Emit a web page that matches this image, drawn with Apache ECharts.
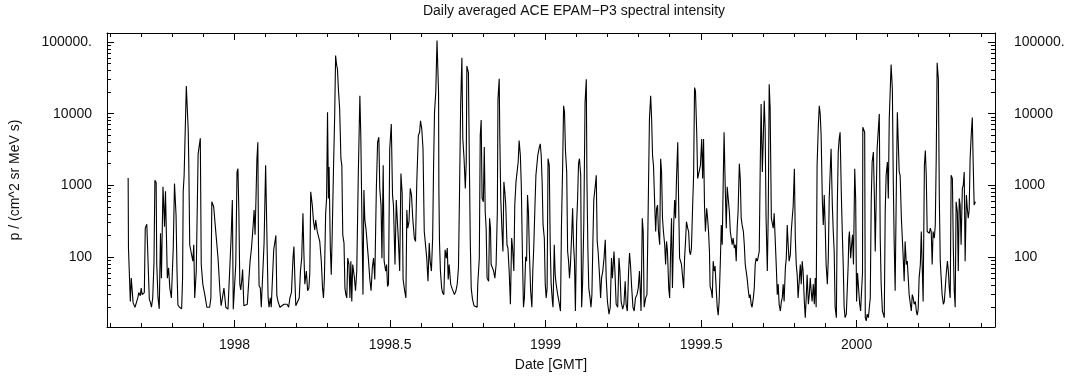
<!DOCTYPE html>
<html>
<head>
<meta charset="utf-8">
<script src="https://cdn.jsdelivr.net/npm/echarts@6/dist/echarts.min.js"></script>
<style>
html,body{margin:0;padding:0;background:#fff;}
#chart{width:1070px;height:377px;}
</style>
</head>
<body>
<div id="chart"></div>
<script>
const titleText = 'Daily averaged ACE EPAM\u2212P3 spectral intensity';
const xName = 'Date [GMT]';
const yName = 'p / (cm^2 sr MeV s)';

const xMajorTicks = [1998, 1998.5, 1999, 1999.5, 2000];
const xMajorText = ['1998', '1998.5', '1999', '1999.5', '2000'];
const xMinorTicks = [1997.6,1997.7,1997.8,1997.9,1998.1,1998.2,1998.3,1998.4,1998.6,1998.7,1998.8,1998.9,
  1999.1,1999.2,1999.3,1999.4,1999.6,1999.7,1999.8,1999.9,2000.1,2000.2,2000.3,2000.4];
const yMajorTicks = [100, 1000, 10000, 100000];
const yMajorText = ['100', '1000', '10000', '100000.'];
const yMinorTicks = [20,30,40,50,60,70,80,90,200,300,400,500,600,700,800,900,
  2000,3000,4000,5000,6000,7000,8000,9000,20000,30000,40000,50000,60000,70000,80000,90000];

const dates = [
1997.658,1997.659,1997.662,1997.665,1997.668,1997.671,1997.674,1997.680,1997.685,1997.689,
1997.692,1997.697,1997.700,1997.703,1997.706,1997.710,1997.713,1997.718,1997.722,1997.726,
1997.730,1997.733,1997.737,1997.741,1997.744,1997.748,1997.750,1997.754,1997.758,1997.762,
1997.765,1997.770,1997.773,1997.775,1997.778,1997.781,1997.784,1997.788,1997.792,1997.797,
1997.803,1997.807,1997.810,1997.812,1997.815,1997.818,1997.823,1997.830,1997.833,1997.835,
1997.838,1997.842,1997.845,1997.849,1997.851,1997.853,1997.856,1997.861,1997.866,1997.869,
1997.872,1997.877,1997.883,1997.890,1997.893,1997.898,1997.905,1997.911,1997.920,1997.924,
1997.927,1997.933,1997.937,1997.941,
1997.947,1997.953,1997.957,1997.961,1997.966,1997.970,1997.972,1997.979,1997.985,1997.989,
1997.993,1997.996,1998.001,1998.004,1998.008,1998.011,1998.014,1998.017,1998.020,1998.024,
1998.026,1998.030,1998.035,1998.041,1998.046,1998.050,1998.054,1998.057,1998.060,1998.063,
1998.066,1998.069,1998.072,1998.075,1998.077,1998.079,1998.083,1998.086,1998.090,1998.095,
1998.100,1998.103,1998.105,1998.108,1998.111,1998.115,1998.118,1998.122,1998.126,1998.130,
1998.133,1998.136,1998.140,1998.146,1998.152,1998.159,1998.165,1998.169,1998.174,1998.178,
1998.183,1998.188,1998.191,1998.194,1998.197,1998.203,1998.208,1998.212,1998.216,1998.220,
1998.223,1998.226,1998.231,1998.235,1998.239,1998.242,1998.245,1998.250,1998.254,1998.258,
1998.261,1998.266,1998.270,1998.274,1998.279,1998.283,1998.286,1998.289,1998.293,1998.296,
1998.299,1998.302,1998.304,1998.308,1998.311,1998.314,1998.318,1998.322,1998.325,1998.328,
1998.331,1998.334,1998.338,1998.340,1998.342,1998.345,1998.348,1998.352,1998.355,1998.358,
1998.361,1998.364,1998.368,1998.371,1998.374,1998.377,1998.380,1998.385,1998.389,1998.393,
1998.398,1998.403,1998.406,1998.409,1998.413,1998.416,1998.419,1998.423,1998.428,1998.431,
1998.435,1998.439,1998.443,1998.447,1998.451,1998.456,1998.460,1998.464,1998.467,1998.471,
1998.474,1998.478,1998.481,1998.486,1998.489,1998.492,1998.495,1998.499,1998.504,1998.508,
1998.511,1998.516,1998.520,1998.524,1998.527,1998.531,1998.535,1998.539,1998.542,1998.547,
1998.551,1998.554,1998.557,1998.561,1998.565,1998.569,1998.573,1998.578,1998.582,1998.586,
1998.591,1998.595,1998.598,1998.602,1998.606,1998.610,1998.614,1998.618,1998.622,1998.626,
1998.629,1998.633,1998.637,1998.640,1998.643,1998.647,1998.651,
1998.656,1998.657,1998.659,1998.662,1998.666,1998.669,1998.673,1998.677,1998.681,1998.684,
1998.687,1998.690,1998.695,1998.699,1998.703,1998.707,1998.712,1998.716,1998.720,1998.723,
1998.727,1998.731,1998.734,1998.738,1998.742,1998.745,1998.747,1998.750,1998.752,1998.755,
1998.758,1998.761,1998.765,1998.770,1998.774,1998.780,1998.782,1998.787,1998.790,1998.793,
1998.796,1998.800,1998.803,1998.806,1998.809,1998.812,1998.817,1998.820,1998.823,1998.825,
1998.830,1998.833,1998.837,1998.841,1998.845,1998.847,1998.851,1998.853,1998.856,1998.860,
1998.863,1998.866,1998.869,1998.872,1998.876,1998.879,1998.883,1998.887,1998.891,1998.894,
1998.898,1998.901,1998.905,1998.909,1998.912,1998.915,1998.919,1998.922,1998.926,1998.929,
1998.932,1998.936,1998.939,1998.942,1998.945,1998.948,1998.952,1998.956,1998.959,1998.962,
1998.966,1998.969,1998.972,1998.975,1998.980,1998.983,1998.986,1998.989,1998.992,1998.996,
1998.999,1999.002,1999.005,1999.008,1999.012,
1999.015,1999.018,1999.022,1999.024,1999.028,1999.031,1999.034,1999.039,1999.043,1999.048,
1999.051,1999.055,1999.058,1999.061,1999.064,1999.068,1999.071,1999.074,1999.077,1999.080,
1999.084,1999.087,1999.090,1999.093,1999.096,1999.100,1999.103,1999.106,1999.109,1999.113,
1999.116,1999.119,1999.123,1999.127,1999.131,1999.133,1999.136,1999.139,1999.143,1999.146,
1999.149,1999.152,1999.155,1999.160,1999.163,1999.166,1999.169,1999.174,1999.177,1999.180,
1999.184,1999.188,1999.192,1999.195,1999.199,1999.204,1999.208,1999.212,1999.215,1999.220,
1999.223,1999.227,1999.232,1999.236,1999.239,1999.243,1999.248,1999.252,1999.256,1999.259,
1999.263,1999.267,1999.270,1999.273,1999.277,1999.281,1999.285,1999.289,1999.294,1999.298,
1999.302,1999.307,1999.311,1999.314,1999.317,1999.322,1999.326,1999.330,1999.334,1999.338,
1999.341,1999.344,1999.347,1999.351,1999.354,1999.357,1999.360,1999.363,1999.367,1999.370,
1999.373,1999.376,1999.379,1999.383,1999.386,1999.389,1999.392,1999.396,1999.399,1999.402,
1999.405,1999.408,1999.412,1999.415,1999.418,1999.421,1999.425,1999.428,1999.431,1999.434,
1999.437,1999.441,1999.444,1999.447,1999.450,1999.453,1999.457,1999.460,1999.463,1999.466,
1999.469,1999.473,1999.476,1999.479,1999.482,1999.486,1999.489,
1999.498,1999.502,1999.505,1999.508,1999.511,1999.514,1999.518,1999.521,1999.524,1999.527,
1999.529,1999.533,1999.536,1999.539,1999.542,1999.545,1999.549,1999.552,1999.555,1999.558,
1999.562,1999.565,1999.568,1999.571,1999.574,1999.578,1999.581,1999.584,1999.587,1999.591,
1999.594,1999.597,1999.600,1999.603,1999.607,1999.610,1999.613,1999.616,1999.619,1999.623,
1999.626,1999.629,1999.632,1999.636,1999.639,1999.642,1999.645,1999.648,1999.652,1999.655,
1999.658,1999.661,1999.664,1999.668,1999.671,1999.674,1999.677,1999.681,1999.684,1999.687,
1999.690,1999.693,1999.697,1999.700,1999.703,1999.706,1999.709,1999.713,1999.716,1999.719,
1999.722,1999.726,1999.729,1999.732,1999.735,1999.738,1999.742,1999.745,1999.748,1999.751,
1999.755,1999.758,1999.761,1999.764,1999.767,1999.771,1999.774,1999.777,1999.780,1999.783,
1999.787,1999.790,1999.793,1999.796,1999.800,1999.803,1999.806,1999.809,1999.812,1999.816,
1999.819,1999.822,1999.825,1999.828,1999.832,1999.835,1999.838,1999.841,1999.845,1999.848,
1999.851,1999.854,1999.857,1999.861,1999.864,1999.867,1999.870,1999.873,1999.877,1999.880,
1999.883,1999.886,1999.890,1999.893,1999.896,1999.899,1999.902,1999.906,1999.909,1999.912,
1999.915,1999.918,1999.922,1999.925,1999.928,1999.931,1999.935,1999.938,1999.941,1999.944,
1999.947,1999.951,1999.954,1999.957,1999.960,1999.963,1999.967,
1999.973,1999.975,1999.977,1999.981,1999.984,1999.987,1999.990,1999.994,1999.997,2000.000,
2000.003,2000.006,2000.010,2000.013,2000.016,2000.019,2000.020,2000.024,2000.026,2000.028,
2000.031,2000.034,2000.038,2000.041,2000.044,2000.047,2000.050,2000.054,2000.057,2000.060,
2000.063,2000.066,2000.070,2000.073,2000.076,2000.079,2000.083,2000.086,2000.089,2000.092,
2000.095,2000.099,2000.102,2000.105,2000.108,2000.111,2000.115,2000.118,2000.121,2000.124,
2000.128,2000.131,2000.134,2000.137,2000.140,2000.144,2000.147,2000.150,2000.153,2000.156,
2000.160,2000.163,2000.166,2000.169,2000.173,2000.176,2000.179,2000.182,2000.185,2000.189,
2000.192,2000.195,2000.198,2000.201,2000.205,2000.208,2000.211,2000.214,2000.218,2000.221,
2000.224,2000.227,2000.230,2000.234,2000.237,2000.240,2000.243,2000.246,2000.250,2000.253,
2000.256,2000.259,2000.263,2000.266,2000.269,2000.272,2000.275,2000.279,2000.282,2000.285,
2000.288,2000.292,2000.295,2000.298,2000.301,2000.304,2000.308,2000.311,2000.314,2000.317,
2000.320,2000.324,2000.327,2000.330,2000.333,2000.336,2000.340,2000.343,2000.346,2000.349,
2000.353,2000.356,2000.359,2000.362,2000.365,2000.369,2000.372,2000.375,2000.378,2000.382
];

const flux = [
1277,134,134,24,51,49,23,20,20,27,
32,29,37,30,29,32,254,288,297,26,
23,20,27,83,1185,1100,79,27,19,216,
51,960,990,267,835,817,51,71,37,27,
134,1067,1010,388,67,21.5,20,19,51,817,
1390,1466,24500,23800,6170,2020,149,114,88,149,
27,64,2770,4570,79,42,29,20,20,27,
594,506,313,195,
97,34,21,20,37,39,20,18.8,20,185,
626,18.8,20,79,1546,1720,431,42,35,51,
67,21,20,22,22,88,127,185,282,455,
205,661,2366,4030,149,40,37,20,20,157,
1914,2020,127,27,20,27,20,20,127,134,
201,29,24,20,20,22,21,22,20,27,
32,97,141,51,21,20,27,64,97,409,
114,42,64,34,37,60,817,533,313,240,
331,228,216,166,88,37,27,51,409,661,
10500,661,1815,134,57,205,1546,9440,65300,49000,
41800,22100,11700,5550,2370,1914,205,157,37,30,
27,97,79,27,88,24,79,54,34,64,
1466,17900,4980,533,30,864,331,240,228,88,
49,34,71,97,49,910,4030,4720,910,533,
97,1914,88,64,79,39,42,3260,7200,735,
533,79,626,594,166,64,1466,774,49,34,
27,455,254,313,910,735,350,185,166,1124,
4980,5550,8030,6170,3260,228,216,97,46,157,
88,64,185,1914,10500,19900,106000,
19900,910,166,64,37,32,30,127,97,134,
49,79,42,37,39,30,34,42,71,594,
13000,60700,4470,2370,910,2130,46500,46500,37600,2130,
166,37,26,21,20,20,42,97,4980,8200,
661,594,3440,431,254,51,46,350,254,79,
79,64,51,79,431,16100,31000,4470,661,228,
120,1124,817,533,149,134,64,22,185,134,
64,533,1124,1630,2130,4250,2630,1010,88,20,
27,101,88,735,431,120,34,20,64,134,
533,1390,1914,2630,3440,3820,2630,1124,282,185,
42,27,37,2370,1914,
149,42,24,20,149,57,42,30,24,17.7,
254,1914,13000,10500,3090,1546,120,88,51,79,
205,480,149,88,17.7,297,661,2020,2370,1390,
20,42,297,14400,30400,1250,134,37,27,20,
30,149,626,1010,1390,166,120,51,27,51,
64,97,175,51,24,16,20,97,51,120,
64,22,20,97,64,24,18.8,22,46,22,
17.7,64,114,79,37,20,17.7,27,30,37,
64,17.7,350,228,20,27,30,480,8470,17900,
8470,2630,1914,533,228,480,533,228,149,2370,
1546,350,228,149,79,166,120,37,27,120,
350,37,282,626,350,1250,4030,533,97,88,
79,51,37,97,166,313,254,228,120,108,
134,533,1390,23300,20900,5550,1250,
1914,4470,1250,4470,533,228,480,350,228,120,
39,34,27,88,64,75,34,20,15.5,24,
88,282,149,1010,5550,817,254,960,910,431,
228,185,149,185,134,149,88,254,431,2020,
1250,350,282,228,149,79,64,51,34,27,
30,22,20,27,37,79,97,88,93,120,
1546,13700,1546,4470,15200,6170,350,64,409,25900,
12300,350,297,254,409,388,71,30,42,22,
17.7,24,27,42,24,71,97,282,149,88,
108,228,350,506,1720,185,79,57,27,27,
79,42,88,64,24,14.3,27,57,22,30,
51,34,24,42,22,51,20,1914,6850,13000,
10000,4980,594,282,735,282,79,42,97,661,
1546,3260,533,228,120,20,14.3,533,2940,4470,
5550,735,228,79,20,14.3,16,
79,185,228,97,149,205,79,1720,661,24,
60,57,22,17.7,34,60,6500,6170,5550,14.3,
12.9,16,14.3,20,27,594,2130,2940,774,120,
661,3260,3260,10000,185,42,17.7,16,14.3,431,
1390,2130,661,8470,8030,49000,22100,1124,149,34,
1124,10500,10000,1546,1390,350,185,97,46,166,
79,88,51,30,22,17.7,30,27,22,24,
17.7,15.5,18.8,51,79,228,240,24,1914,3090,
1390,228,228,216,254,228,79,228,185,282,
2370,51700,30400,661,88,51,30,22,24,37,
57,88,64,37,27,1390,1250,134,34,20,
594,431,64,661,533,149,910,1010,1546,88,
735,480,350,455,2370,5550,8900,1914,533,594
];

const seriesData = dates.map((d, i) => [d, flux[i]]);

const X_MIN = 1997.59, X_MAX = 2000.445;
const Y_MIN = 10.6, Y_MAX = 134600;
const txt = {color: '#111', fontFamily: 'Liberation Sans, Arial, Helvetica, sans-serif', fontSize: 14};
const lineStyle = {color: '#000', width: 1};

function xAxisDef(pos, withLabel) {
  return {
    type: 'value', position: pos, min: X_MIN, max: X_MAX,
    axisLine: {show: true, onZero: false, lineStyle: lineStyle},
    axisTick: {show: false},
    axisLabel: withLabel ? Object.assign({show: true, margin: 11, customValues: xMajorTicks,
      formatter: v => xMajorText[xMajorTicks.findIndex(t => Math.abs(t - v) < 1e-6)] || ''}, txt) : {show: false},
    splitLine: {show: false}
  };
}
function yAxisDef(pos) {
  return {
    type: 'log', logBase: 10, position: pos, min: Y_MIN, max: Y_MAX,
    axisLine: {show: true, onZero: false, lineStyle: lineStyle},
    axisTick: {show: false},
    axisLabel: Object.assign({show: true, margin: pos === 'left' ? 15 : 19, customValues: yMajorTicks,
      formatter: v => yMajorText[yMajorTicks.findIndex(t => Math.abs(t - v) / t < 1e-6)] || ''}, txt),
    splitLine: {show: false}
  };
}

const xAxes = [xAxisDef('bottom', true), xAxisDef('top', false)];
Object.assign(xAxes[0], {name: xName, nameLocation: 'middle', nameGap: 31, nameTextStyle: Object.assign({}, txt)});
const yAxes = [yAxisDef('left'), yAxisDef('right')];
Object.assign(yAxes[0], {name: yName, nameLocation: 'middle', nameGap: 85, nameRotate: 90, nameTextStyle: Object.assign({}, txt)});

function crisp(v) { return Math.round(v - 0.5) + 0.5; }

// tick marks on all four sides, positioned through the axes' own scales
function tickSeries(values, kind, len) {
  return {
    type: 'custom', coordinateSystem: 'cartesian2d', xAxisIndex: 0, yAxisIndex: 0,
    silent: true, clip: false, z: 5,
    data: values.map(v => kind === 'x' ? [v, Y_MIN] : [X_MIN, v]),
    renderItem: (params, api) => {
      const style = {stroke: '#000', lineWidth: 1};
      if (kind === 'x') {
        const v = api.value(0);
        const b = api.coord([v, Y_MIN]), t = api.coord([v, Y_MAX]);
        const x = crisp(b[0]);
        return {type: 'group', children: [
          {type: 'line', shape: {x1: x, y1: b[1], x2: x, y2: b[1] - len}, style: style},
          {type: 'line', shape: {x1: x, y1: t[1], x2: x, y2: t[1] + len}, style: style}
        ]};
      }
      const v = api.value(1);
      const l = api.coord([X_MIN, v]), r = api.coord([X_MAX, v]);
      const y = crisp(l[1]);
      return {type: 'group', children: [
        {type: 'line', shape: {x1: l[0], y1: y, x2: l[0] + len, y2: y}, style: style},
        {type: 'line', shape: {x1: r[0], y1: y, x2: r[0] - len, y2: y}, style: style}
      ]};
    }
  };
}

const chart = echarts.init(document.getElementById('chart'), null, {renderer: 'canvas'});
chart.setOption({
  animation: false,
  backgroundColor: '#fff',
  title: {text: titleText, left: 574, top: 4, padding: 0, textAlign: 'center',
    textStyle: Object.assign({fontWeight: 'normal'}, txt)},
  grid: {left: 107, right: 75, top: 33, bottom: 48, containLabel: false},
  xAxis: xAxes,
  yAxis: yAxes,
  series: [
    {
      type: 'line', xAxisIndex: 0, yAxisIndex: 0,
      data: seriesData, showSymbol: false, symbol: 'none',
      lineStyle: {color: '#000', width: 1.1}, clip: true, silent: true
    },
    tickSeries(xMajorTicks, 'x', 7),
    tickSeries(xMinorTicks, 'x', 4),
    tickSeries(yMajorTicks, 'y', 7),
    tickSeries(yMinorTicks, 'y', 4)
  ]
});
</script>
</body>
</html>
